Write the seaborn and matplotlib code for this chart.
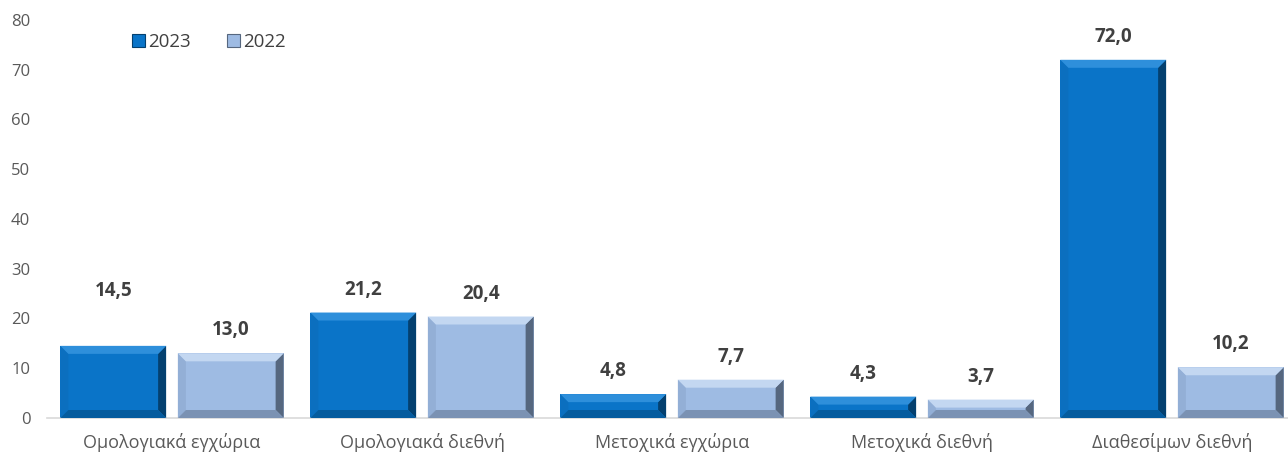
import matplotlib
matplotlib.use("Agg")
import matplotlib.pyplot as plt
import seaborn as sns
import pandas as pd
from matplotlib.patches import Polygon, Patch

# data
categories = ["Ομολογιακά εγχώρια", "Ομολογιακά διεθνή", "Μετοχικά εγχώρια",
              "Μετοχικά διεθνή", "Διαθεσίμων διεθνή"]
vals_2023 = [14.5, 21.2, 4.8, 4.3, 72.0]
vals_2022 = [13.0, 20.4, 7.7, 3.7, 10.2]
years = ["2023", "2022"]

df = pd.DataFrame({
    "cat": categories * 2,
    "year": ["2023"] * 5 + ["2022"] * 5,
    "val": vals_2023 + vals_2022,
})

colors = {"2023": "#0A74C8", "2022": "#9EBBE3"}
light = {"2023": "#2E8FDB", "2022": "#C3D7F1"}
left_c = {"2023": "#0B6FBF", "2022": "#93AFD6"}
dark = {"2023": "#04406F", "2022": "#56677F"}
bottom_c = {"2023": "#065C9E", "2022": "#7B92B3"}

sns.set_style("white")
plt.rcParams["font.family"] = ["Open Sans", "DejaVu Sans"]

fig = plt.figure(figsize=(12.88, 4.55), dpi=100)
ax = fig.add_axes([47 / 1288, 37 / 455, 1250 / 1288, 398 / 455])

sns.barplot(data=df, x="cat", y="val", hue="year", hue_order=years,
            palette=colors, saturation=1, width=0.94, gap=0.1, ax=ax,
            legend=False, edgecolor="none", linewidth=0)

ax.set_ylim(0, 80)
ax.set_yticks(range(0, 81, 10))
ax.set_xlabel("")
ax.set_ylabel("")
for s in ["top", "right", "left"]:
    ax.spines[s].set_visible(False)
ax.spines["bottom"].set_color("#D9D9D9")
ax.spines["bottom"].set_linewidth(1.2)
ax.tick_params(axis="both", length=0, colors="#595959", labelsize=12)
ax.tick_params(axis="x", pad=11, labelsize=13)
ax.tick_params(axis="y", pad=12)

# bevel effect on each bar
fig.canvas.draw()
x0, x1 = ax.get_xlim()
y0, y1 = ax.get_ylim()
bb = ax.get_window_extent()
px_x = (x1 - x0) / bb.width
px_y = (y1 - y0) / bb.height
bev = 8
bars = ax.patches[:10]
for i, p in enumerate(bars):
    yr = years[i // 5]
    bx, by = p.get_x(), p.get_y()
    bw, bh = p.get_width(), p.get_height()
    dx = bev * px_x
    dy = min(bev * px_y, bh / 2)
    tl = (bx, by + bh); tr = (bx + bw, by + bh)
    bl = (bx, by); br = (bx + bw, by)
    itl = (bx + dx, by + bh - dy); itr = (bx + bw - dx, by + bh - dy)
    ibl = (bx + dx, by + dy); ibr = (bx + bw - dx, by + dy)
    ax.add_patch(Polygon([tl, itl, ibl, bl], closed=True, color=left_c[yr], lw=0, zorder=3))
    ax.add_patch(Polygon([tr, br, ibr, itr], closed=True, color=dark[yr], lw=0, zorder=3))
    ax.add_patch(Polygon([bl, ibl, ibr, br], closed=True, color=bottom_c[yr], lw=0, zorder=3))
    ax.add_patch(Polygon([tl, tr, itr, itl], closed=True, color=light[yr], lw=0, zorder=3))

# value labels
offsets = [[55, 23, 23, 23, 23], [23, 23, 23, 23, 23]]
for i, p in enumerate(bars):
    v = p.get_height()
    ax.annotate(f"{v:.1f}".replace(".", ","), (p.get_x() + p.get_width() / 2, v),
                xytext=(0, offsets[i // 5][i % 5] * 0.72), textcoords="offset points",
                ha="center", va="center", fontsize=13.5, fontweight="bold",
                color="#404040")

handles = [Patch(facecolor=colors[y], edgecolor=dark[y], linewidth=0.8) for y in years]
fig.legend(handles, years, loc="center left", bbox_to_anchor=(0.089, 1 - 42 / 455),
           ncol=2, frameon=False, fontsize=13.5, handlelength=0.7, handleheight=0.7,
           handletextpad=0.2, columnspacing=1.9, labelcolor="#404040")

fig.savefig("out.png", dpi=100)
